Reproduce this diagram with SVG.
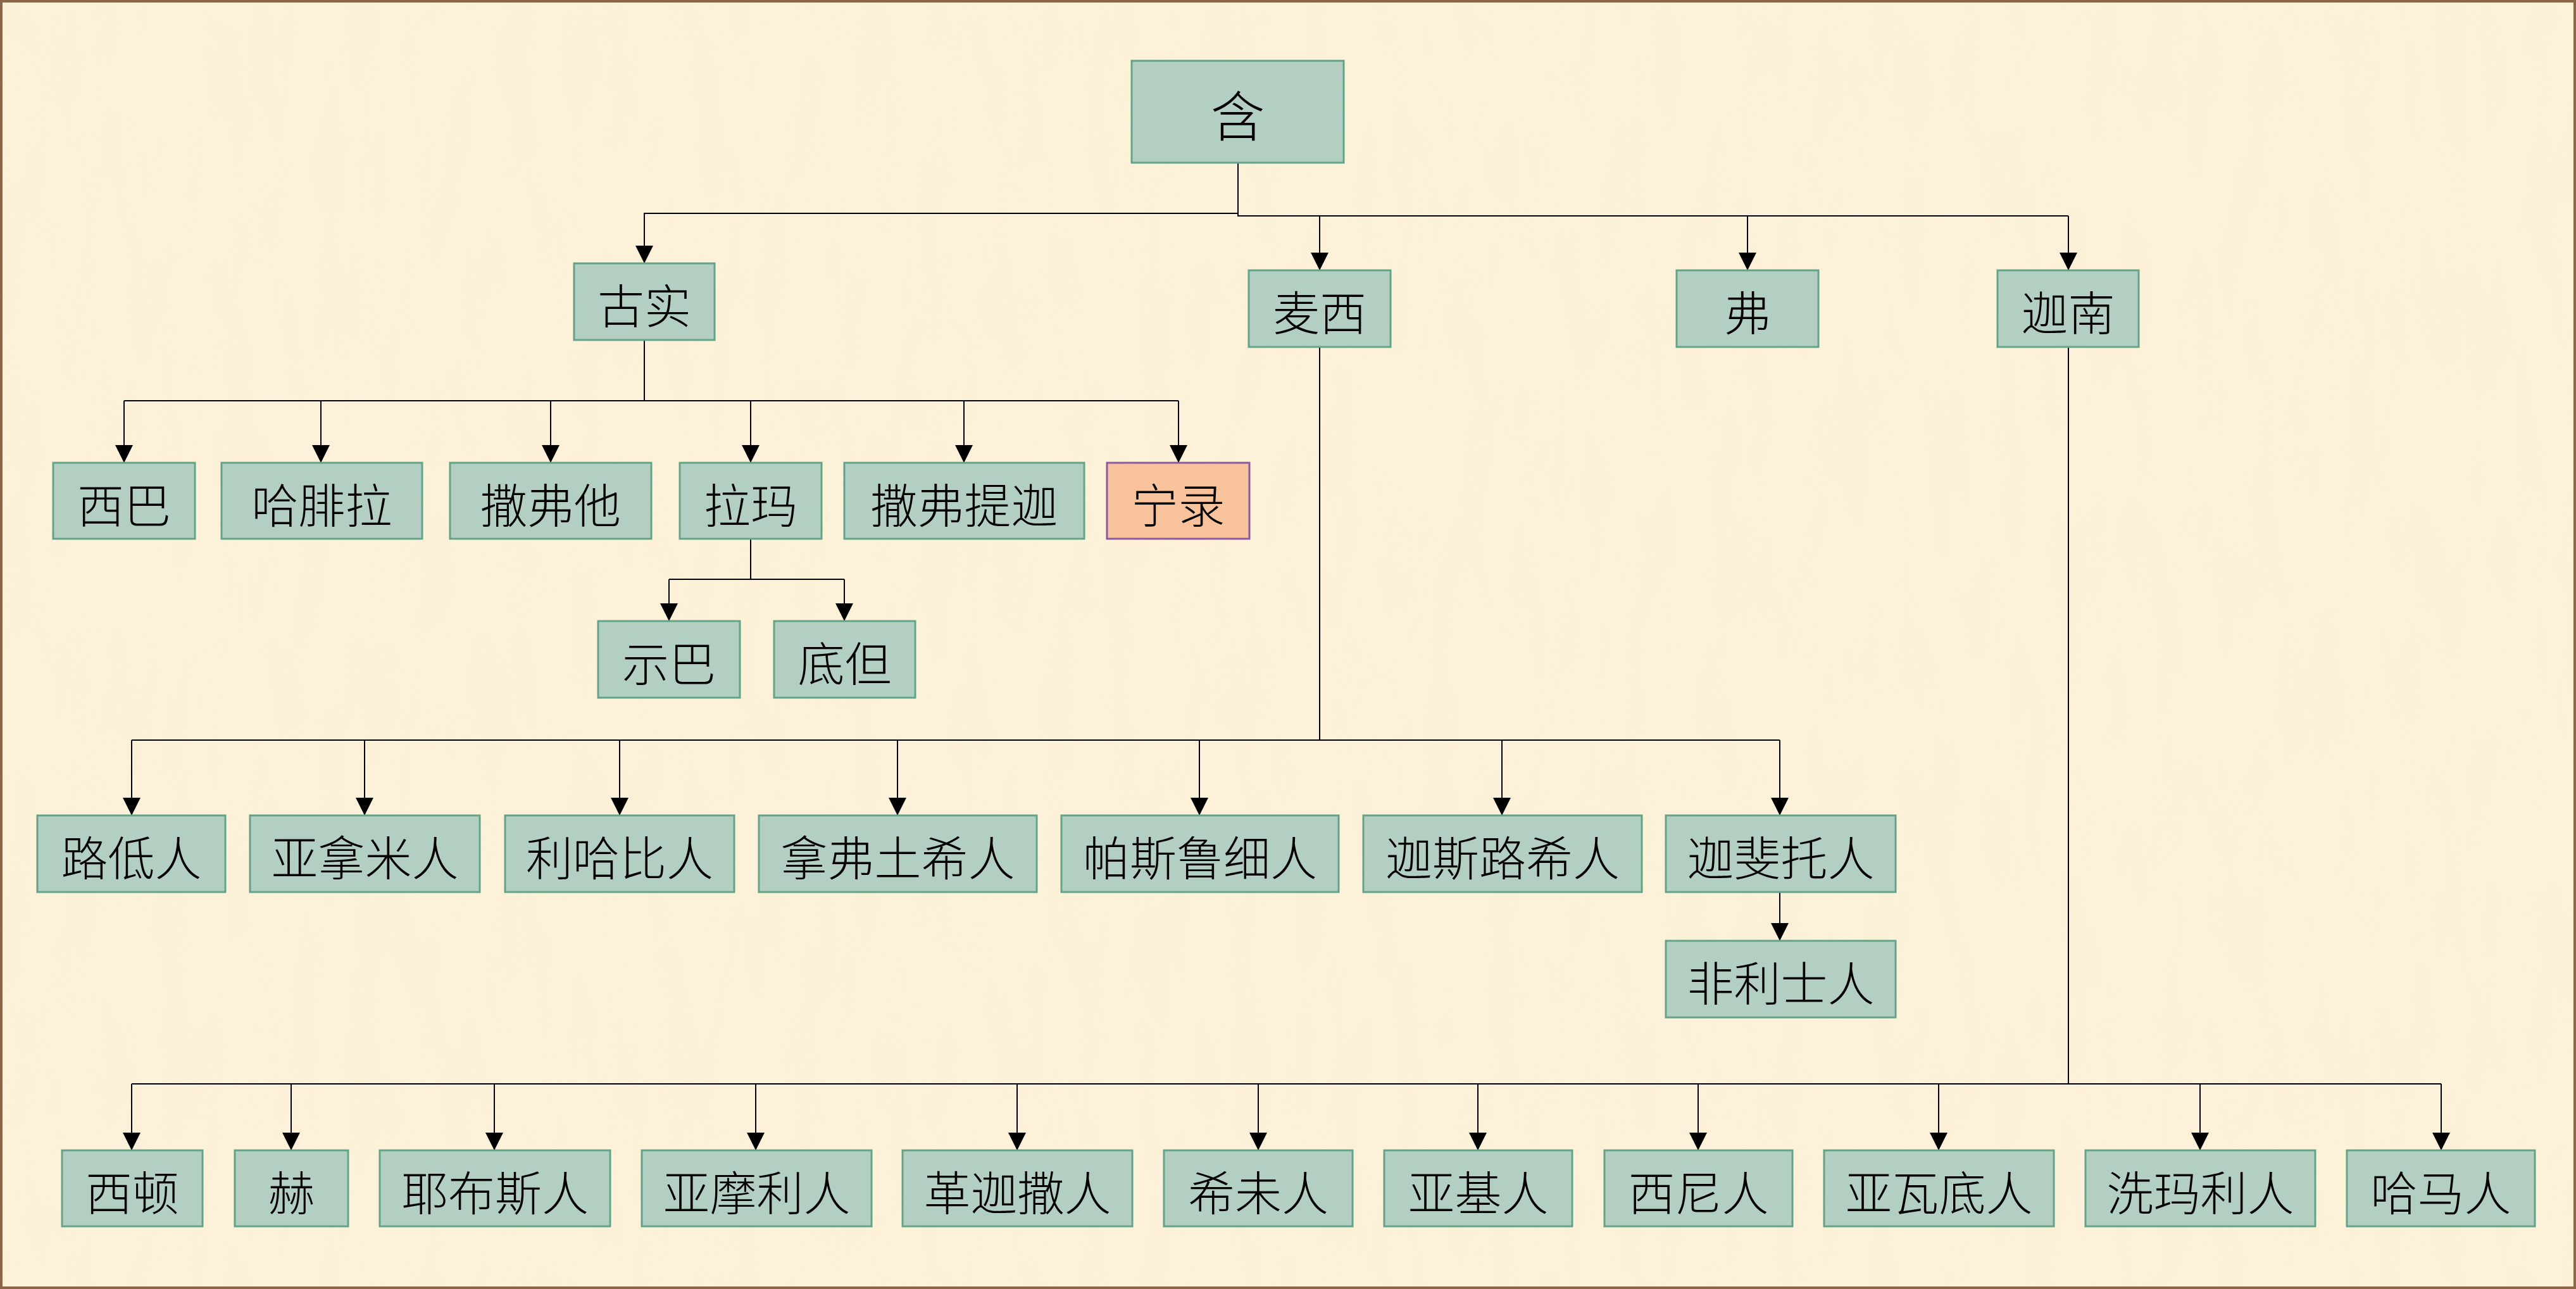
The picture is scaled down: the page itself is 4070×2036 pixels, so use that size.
<svg xmlns="http://www.w3.org/2000/svg" width="4070" height="2036" viewBox="0 0 4070 2036">
<style>
.n rect{fill:#B3CFC1;stroke:#62A488;stroke-width:3}
.n.hl rect{fill:#F8C29B;stroke:#8B5A9E;stroke-width:3}
.n text{font-family:"Noto Sans CJK SC","Noto Sans",sans-serif;font-size:74px;font-weight:300;fill:#000;text-anchor:middle;dominant-baseline:central}
#n0 text{font-size:86px}
#edges path{fill:none;stroke:#000;stroke-width:2}
#edges path.a{marker-end:url(#arr)}
</style>
<defs>
<marker id="arr" markerUnits="userSpaceOnUse" markerWidth="28" markerHeight="28" viewBox="0 0 28 28" refX="28" refY="14" orient="auto">
<path d="M0,0 L28,14 L0,28 z" fill="#000"/>
</marker>
<filter id="paper" x="0" y="0" width="100%" height="100%">
<feTurbulence type="fractalNoise" baseFrequency="0.02 0.005" numOctaves="3" seed="7"/>
<feColorMatrix type="matrix" values="0 0 0 0 0.93  0 0 0 0 0.84  0 0 0 0 0.64  0.7 0 0 0 -0.25"/>
</filter>
</defs>
<rect x="0" y="0" width="4070" height="2036" fill="#FDF2D9"/>
<rect x="0" y="0" width="4070" height="2036" filter="url(#paper)" opacity="0.7"/>
<rect x="2" y="2" width="4066" height="2032" fill="none" stroke="#8B6747" stroke-width="4"/>

<g id="edges">
<path d="M1956,257 V337 H1018 V416" class="a"/>
<path d="M1956,337 V341 H3268"/>
<path d="M2085,341 V427" class="a"/>
<path d="M2761,341 V427" class="a"/>
<path d="M3268,341 V427" class="a"/>
<path d="M1018,537 V633"/>
<path d="M196,633 H1862"/>
<path d="M196,633 V731" class="a"/>
<path d="M507,633 V731" class="a"/>
<path d="M870,633 V731" class="a"/>
<path d="M1186,633 V731" class="a"/>
<path d="M1523,633 V731" class="a"/>
<path d="M1862,633 V731" class="a"/>
<path d="M1186,851 V915"/>
<path d="M1057,915 H1334"/>
<path d="M1057,915 V981" class="a"/>
<path d="M1334,915 V981" class="a"/>
<path d="M2085,548 V1169"/>
<path d="M208,1169 H2812"/>
<path d="M208,1169 V1288" class="a"/>
<path d="M576,1169 V1288" class="a"/>
<path d="M979,1169 V1288" class="a"/>
<path d="M1418,1169 V1288" class="a"/>
<path d="M1895,1169 V1288" class="a"/>
<path d="M2373,1169 V1288" class="a"/>
<path d="M2812,1169 V1288" class="a"/>
<path d="M2812,1409 V1486" class="a"/>
<path d="M3268,548 V1712"/>
<path d="M208,1712 H3857"/>
<path d="M208,1712 V1817" class="a"/>
<path d="M460,1712 V1817" class="a"/>
<path d="M781,1712 V1817" class="a"/>
<path d="M1194,1712 V1817" class="a"/>
<path d="M1607,1712 V1817" class="a"/>
<path d="M1988,1712 V1817" class="a"/>
<path d="M2335,1712 V1817" class="a"/>
<path d="M2683,1712 V1817" class="a"/>
<path d="M3063,1712 V1817" class="a"/>
<path d="M3476,1712 V1817" class="a"/>
<path d="M3857,1712 V1817" class="a"/>
</g>

<g id="n0" class="n"><rect x="1788" y="96" width="335" height="161"/><text x="1955.5" y="178">含</text></g>

<g id="n1" class="n"><rect x="907" y="416" width="222" height="121"/><text x="1018" y="478">古实</text></g>
<g id="n2" class="n"><rect x="1973" y="427" width="224" height="121"/><text x="2085" y="489">麦西</text></g>
<g id="n3" class="n"><rect x="2649" y="427" width="224" height="121"/><text x="2761" y="489">弗</text></g>
<g id="n4" class="n"><rect x="3156" y="427" width="223" height="121"/><text x="3267.5" y="489">迦南</text></g>

<g id="n5" class="n"><rect x="84" y="731" width="224" height="120"/><text x="196" y="793">西巴</text></g>
<g id="n6" class="n"><rect x="350" y="731" width="317" height="120"/><text x="508.5" y="793">哈腓拉</text></g>
<g id="n7" class="n"><rect x="711" y="731" width="318" height="120"/><text x="870" y="793">撒弗他</text></g>
<g id="n8" class="n"><rect x="1074" y="731" width="224" height="120"/><text x="1186" y="793">拉玛</text></g>
<g id="n9" class="n"><rect x="1334" y="731" width="379" height="120"/><text x="1523.5" y="793">撒弗提迦</text></g>
<g id="n10" class="n hl"><rect x="1749" y="731" width="225" height="120"/><text x="1861.5" y="793">宁录</text></g>

<g id="n11" class="n"><rect x="945" y="981" width="224" height="121"/><text x="1057" y="1043">示巴</text></g>
<g id="n12" class="n"><rect x="1223" y="981" width="223" height="121"/><text x="1334.5" y="1043">底但</text></g>

<g id="n13" class="n"><rect x="59" y="1288" width="297" height="121"/><text x="207.5" y="1350">路低人</text></g>
<g id="n14" class="n"><rect x="395" y="1288" width="363" height="121"/><text x="576.5" y="1350">亚拿米人</text></g>
<g id="n15" class="n"><rect x="798" y="1288" width="362" height="121"/><text x="979" y="1350">利哈比人</text></g>
<g id="n16" class="n"><rect x="1199" y="1288" width="439" height="121"/><text x="1418.5" y="1350">拿弗土希人</text></g>
<g id="n17" class="n"><rect x="1677" y="1288" width="438" height="121"/><text x="1896" y="1350">帕斯鲁细人</text></g>
<g id="n18" class="n"><rect x="2154" y="1288" width="440" height="121"/><text x="2374" y="1350">迦斯路希人</text></g>
<g id="n19" class="n"><rect x="2632" y="1288" width="363" height="121"/><text x="2813.5" y="1350">迦斐托人</text></g>
<g id="n20" class="n"><rect x="2632" y="1486" width="363" height="121"/><text x="2813.5" y="1548">非利士人</text></g>

<g id="n21" class="n"><rect x="98" y="1817" width="222" height="120"/><text x="209" y="1879">西顿</text></g>
<g id="n22" class="n"><rect x="371" y="1817" width="179" height="120"/><text x="460.5" y="1879">赫</text></g>
<g id="n23" class="n"><rect x="600" y="1817" width="364" height="120"/><text x="782" y="1879">耶布斯人</text></g>
<g id="n24" class="n"><rect x="1014" y="1817" width="363" height="120"/><text x="1195.5" y="1879">亚摩利人</text></g>
<g id="n25" class="n"><rect x="1426" y="1817" width="363" height="120"/><text x="1607.5" y="1879">革迦撒人</text></g>
<g id="n26" class="n"><rect x="1839" y="1817" width="298" height="120"/><text x="1988" y="1879">希未人</text></g>
<g id="n27" class="n"><rect x="2187" y="1817" width="297" height="120"/><text x="2335.5" y="1879">亚基人</text></g>
<g id="n28" class="n"><rect x="2535" y="1817" width="297" height="120"/><text x="2683.5" y="1879">西尼人</text></g>
<g id="n29" class="n"><rect x="2882" y="1817" width="363" height="120"/><text x="3063.5" y="1879">亚瓦底人</text></g>
<g id="n30" class="n"><rect x="3295" y="1817" width="363" height="120"/><text x="3476.5" y="1879">洗玛利人</text></g>
<g id="n31" class="n"><rect x="3708" y="1817" width="297" height="120"/><text x="3856.5" y="1879">哈马人</text></g>
</svg>
